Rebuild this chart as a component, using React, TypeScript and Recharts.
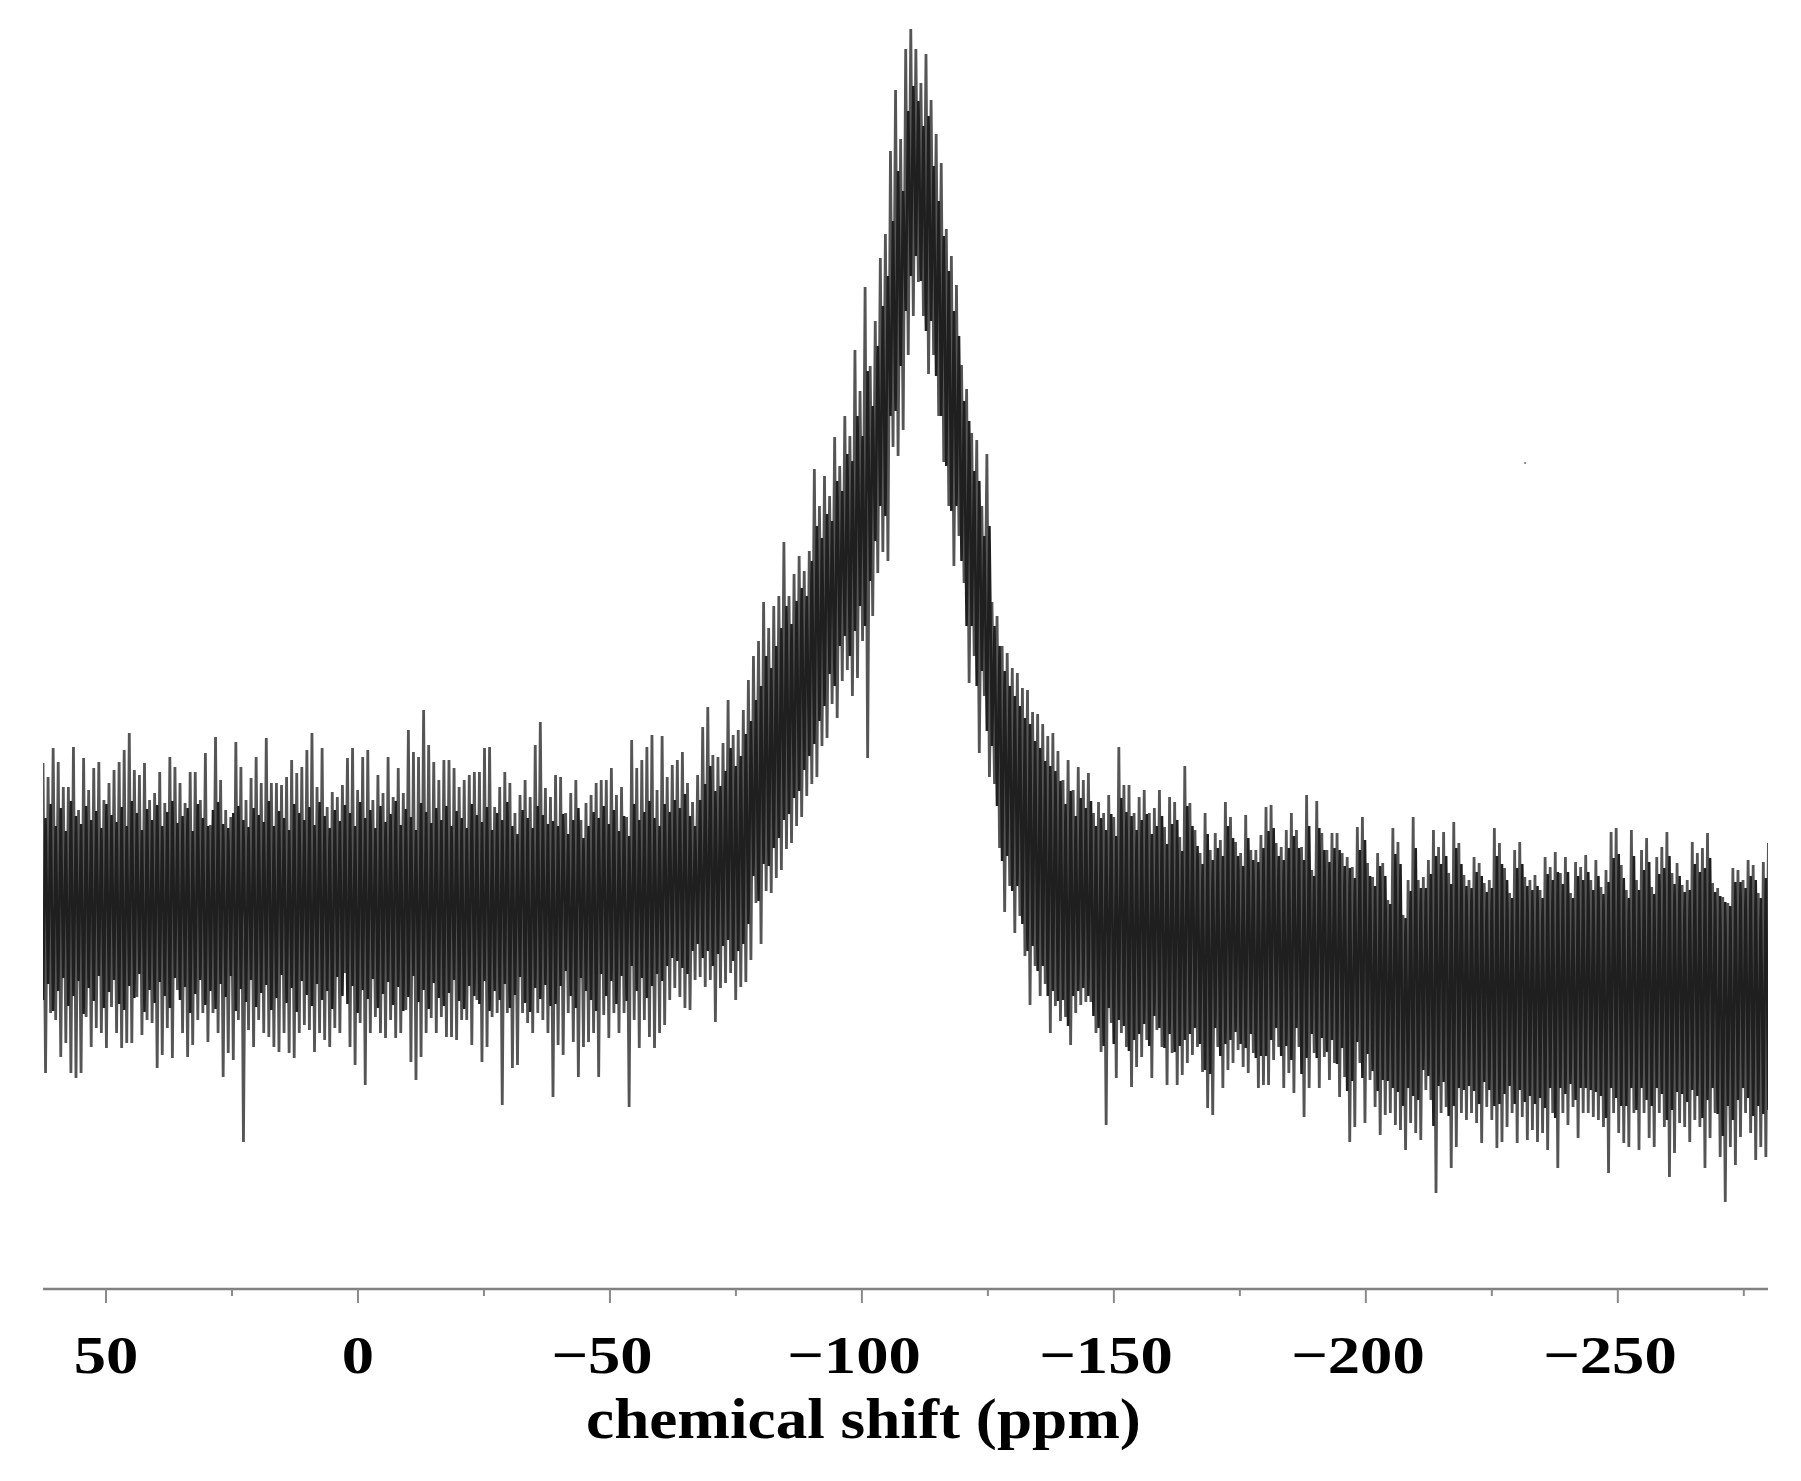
import { ComposedChart, Line, XAxis, YAxis, ReferenceDot } from 'recharts';

// intensity, one column per sample, from +62.5 ppm going upfield
const leftUpper = [
  533, 519, 548, 534, 509, 509, 549, 486, 538, 506, 528, 534, 496, 513, 526, 534, 546, 563, 526, 521,
  533, 496, 503, 524, 493, 539, 529, 513, 493, 524, 524, 496, 543, 471, 559, 516, 486, 479, 554, 529,
  496, 518, 539, 513, 558, 513, 513, 511, 519, 536, 523, 529, 546, 563, 509, 548, 489, 504, 499, 511,
  538, 548, 506, 539, 546, 496, 521, 503, 539, 499, 528, 503, 566, 544, 539, 586, 551, 534, 516, 536,
  536, 528, 509, 516, 521, 524, 524, 548, 549, 489, 509, 524, 513, 483, 501, 516, 499, 551, 574, 508, 499,
];
const leftLower = [
  223, 283, 276, 239, 253, 223, 218, 223, 279, 249, 268, 263, 248, 289, 263, 248, 253, 253, 299, 261,
  276, 273, 228, 241, 268, 238, 306, 263, 239, 251, 276, 283, 254, 283, 263, 219, 243, 236, 276, 154,
  266, 249, 276, 263, 259, 249, 244, 263, 243, 238, 263, 271, 266, 244, 263, 256, 249, 268, 263, 323,
  249, 231, 273, 211, 263, 279, 263, 258, 276, 258, 263, 286, 234, 216, 239, 263, 278, 263, 279, 259,
  259, 256, 276, 276, 251, 296, 234, 249, 279, 283, 191, 283, 228, 231, 283, 273, 263, 283, 276, 263, 199,
];
const peakUpper = [
  521, 519, 483, 503, 516, 476, 493, 501, 513, 516, 516, 528, 501, 509, 479, 556, 528, 536, 549, 561,
  506, 560, 519, 531, 536, 544, 513, 494, 521, 569, 589, 541, 539, 553, 596, 561, 566, 586, 616,
  640, 655, 694, 668, 690, 700, 754, 700, 722, 740, 725, 745, 827, 790, 820, 800, 859, 830, 880, 860,
  946, 905, 1009, 930, 975, 1038, 1062, 1145, 1206, 1157, 1247, 1267, 1247, 1213, 1242, 1196, 1162, 1133, 1067, 1040,
  1011, 931, 907, 863, 856, 790, 842, 694, 680, 650, 643, 628, 623, 608, 606, 584, 582, 572, 560, 563, 545,
];
const peakLower = [
  251, 241, 283, 254, 219, 249, 254, 263, 219, 281, 258, 283, 263, 283, 189, 276, 248, 276, 259, 248,
  263, 271, 296, 308, 299, 288, 286, 316, 319, 309, 316, 274, 308, 313, 323, 296, 309, 314, 336,
  393, 352, 405, 403, 418, 426, 447, 453, 470, 479, 500, 512, 519, 550, 558, 592, 578, 615, 626, 600,
  618, 655, 538, 680, 723, 744, 735, 849, 840, 866, 941, 980, 1014, 980, 922, 941, 880, 834, 790, 730,
  760, 713, 613, 640, 543, 600, 519, 512, 448, 384, 410, 363, 380, 340, 291, 330, 300, 312, 263, 290, 275,
];
const rightUpper = [
  516, 536, 506, 529, 516, 523, 483, 494, 483, 501, 479, 549, 511, 511, 483, 499, 506, 483, 488, 506,
  469, 499, 494, 459, 530, 493, 466, 443, 483, 446, 463, 456, 494, 479, 454, 443, 481, 446, 446, 461,
  489, 491, 453, 449, 466, 483, 466, 449, 501, 426, 495, 463, 446, 463, 463, 443, 439, 429, 469, 479,
  433, 419, 443, 433, 396, 468, 454, 381, 416, 479, 416, 419, 436, 466, 449, 464, 423, 474, 453, 421,
  416, 439, 433, 413, 416, 468, 453, 428, 403, 446, 454, 419, 416, 421, 406, 439, 429, 444, 423, 439,
  403, 434, 429, 441, 416, 436, 409, 426, 464, 468, 431, 406, 466, 416, 446, 458, 409, 439, 449, 464,
  423, 433, 411, 416, 454, 443, 448, 463, 413, 408, 399, 393, 428, 426, 416, 436, 431, 403, 434, 453, 429,
];
const rightLower = [
  279, 251, 283, 291, 294, 294, 263, 244, 171, 273, 218, 263, 249, 209, 229, 239, 256, 218, 266, 249,
  211, 243, 211, 221, 233, 241, 249, 224, 188, 181, 249, 208, 226, 233, 246, 229, 223, 243, 208, 211,
  211, 236, 249, 208, 223, 203, 249, 179, 208, 243, 208, 239, 216, 233, 199, 219, 154, 169, 233, 173,
  216, 189, 161, 181, 183, 171, 166, 146, 173, 163, 156, 206, 196, 103, 183, 189, 128, 149, 183, 176,
  183, 173, 153, 189, 176, 148, 154, 169, 183, 153, 179, 156, 166, 154, 163, 146, 183, 128, 183, 171,
  189, 158, 183, 183, 179, 176, 169, 123, 183, 163, 153, 149, 183, 146, 183, 158, 149, 183, 169, 119,
  143, 173, 169, 154, 176, 169, 128, 158, 183, 139, 94, 149, 131, 159, 183, 163, 136, 149, 139, 143, 170,
];

// second, darker trace: the shorter sticks that fill the band between the tall ones
const leftInnerUpper = [
  478, 492, 470, 488, 465, 495, 480, 472, 490, 476, 485, 468, 492, 481, 474, 489, 470, 495, 483, 466,
  487, 476, 491, 470, 484, 495, 473, 480, 488, 465, 492, 478, 470, 486, 494, 472, 468, 483, 490, 476,
  469, 488, 481, 474, 495, 470, 485, 478, 466, 492, 483, 476, 489, 471, 494, 480, 468, 486, 475, 491,
  483, 470, 494, 478, 486, 468, 490, 474, 482, 495, 471, 487, 479, 466, 493, 484, 473, 488, 476, 490,
  470, 485, 478, 468, 492, 481, 474, 489, 466, 483, 476, 494, 470, 462, 486, 478, 468, 490, 481, 472, 475,
];
const leftInnerLower = [
  296, 312, 285, 305, 318, 290, 300, 315, 282, 308, 295, 320, 288, 304, 316, 292, 286, 310, 298, 322,
  284, 306, 293, 314, 300, 288, 318, 296, 309, 283, 302, 316, 291, 305, 287, 312, 299, 320, 285, 307,
  294, 316, 289, 303, 311, 286, 298, 321, 293, 308, 284, 315, 301, 290, 312, 296, 305, 287, 319, 300,
  292, 310, 283, 306, 297, 317, 288, 302, 314, 291, 309, 285, 299, 320, 294, 306, 287, 313, 298, 290,
  303, 316, 295, 287, 310, 300, 292, 315, 285, 305, 296, 312, 288, 301, 319, 293, 284, 308, 297, 311, 290,
];
const peakInnerUpper = [
  470, 482, 462, 476, 488, 458, 470, 484, 478, 490, 472, 486, 465, 480, 460, 492, 476, 484, 495, 478,
  470, 492, 484, 496, 488, 502, 480, 470, 496, 512, 530, 505, 510, 525, 548, 530, 540, 562, 575,
  596, 610, 640, 628, 650, 668, 690, 672, 695, 708, 700, 735, 770, 758, 782, 775, 815, 805, 842, 835,
  880, 860, 925, 890, 950, 990, 1020, 1075, 1125, 1105, 1185, 1210, 1195, 1170, 1180, 1130, 1095, 1060, 1025, 985,
  960, 895, 875, 825, 815, 760, 770, 670, 650, 625, 610, 600, 590, 578, 572, 555, 548, 535, 530, 525, 515,
];
const peakInnerLower = [
  292, 310, 325, 300, 288, 318, 305, 296, 285, 322, 300, 315, 292, 320, 295, 330, 305, 318, 298, 310,
  322, 315, 330, 338, 335, 328, 322, 345, 352, 338, 345, 330, 342, 350, 356, 335, 345, 352, 372,
  420, 395, 432, 430, 448, 458, 476, 482, 498, 505, 526, 540, 552, 575, 590, 622, 610, 650, 660, 640,
  665, 690, 670, 715, 755, 790, 780, 880, 885, 930, 985, 1020, 1040, 1015, 965, 975, 920, 880, 830, 785,
  790, 735, 670, 670, 610, 625, 565, 550, 490, 435, 440, 405, 410, 372, 345, 350, 325, 330, 300, 305, 295,
];
const rightInnerUpper = [
  492, 505, 480, 498, 488, 495, 470, 478, 466, 482, 460, 498, 484, 480, 466, 476, 482, 462, 470, 480,
  452, 472, 476, 445, 490, 470, 450, 432, 462, 436, 448, 440, 470, 458, 440, 430, 458, 436, 434, 448,
  465, 468, 440, 436, 448, 460, 448, 436, 470, 420, 468, 446, 434, 448, 446, 430, 428, 418, 446, 456,
  420, 410, 430, 420, 392, 442, 432, 378, 405, 448, 408, 408, 422, 440, 432, 440, 412, 448, 432, 410,
  408, 424, 420, 404, 408, 440, 432, 416, 398, 428, 432, 410, 406, 410, 398, 422, 416, 424, 412, 424,
  398, 420, 416, 424, 406, 420, 402, 414, 438, 442, 418, 398, 440, 406, 426, 434, 402, 422, 428, 440,
  412, 420, 404, 406, 432, 424, 428, 438, 404, 400, 394, 390, 414, 414, 408, 420, 416, 398, 418, 430, 414,
];
const rightInnerLower = [
  296, 270, 300, 305, 308, 300, 280, 268, 250, 288, 252, 276, 270, 245, 256, 262, 272, 250, 280, 268,
  248, 262, 244, 250, 256, 262, 268, 252, 226, 222, 268, 240, 252, 256, 264, 252, 248, 262, 238, 240,
  240, 256, 268, 240, 250, 236, 268, 222, 238, 262, 238, 258, 244, 256, 232, 248, 205, 215, 254, 218,
  242, 225, 205, 216, 215, 208, 204, 190, 208, 200, 196, 226, 220, 170, 210, 214, 180, 190, 208, 206,
  210, 205, 192, 214, 206, 190, 192, 202, 210, 192, 206, 194, 200, 192, 198, 188, 208, 178, 208, 202,
  212, 196, 208, 208, 206, 204, 200, 178, 208, 198, 190, 190, 208, 186, 208, 196, 190, 208, 202, 176,
  186, 204, 202, 194, 206, 200, 178, 196, 208, 182, 160, 190, 176, 196, 208, 198, 180, 190, 182, 186, 202,
];

const xTicks = [50, 25, 0, -25, -50, -75, -100, -125, -150, -175, -200, -225, -250, -275];
const xLabels = [50, 0, -50, -100, -150, -200, -250];

const upper = [...leftUpper, ...peakUpper, ...rightUpper];
const lower = [...leftLower, ...peakLower, ...rightLower];
const innerUpper = [...leftInnerUpper, ...peakInnerUpper, ...rightInnerUpper];
const innerLower = [...leftInnerLower, ...peakInnerLower, ...rightInnerLower];
const START_PPM = 62.5;
const STEP_PPM = 1.007;

const spectrum = upper.flatMap((u, i) => [
  { ppm: START_PPM - i * STEP_PPM, intensity: u },
  { ppm: START_PPM - (i + 0.5) * STEP_PPM, intensity: lower[i] },
]);
const spectrumInner = innerUpper.flatMap((u, i) => [
  { ppm: START_PPM - i * STEP_PPM, intensity: innerLower[i] },
  { ppm: START_PPM - (i + 0.5) * STEP_PPM, intensity: u },
]);

const FONT = '"Liberation Serif", serif';

function ShiftTick({ x, y, payload }: any) {
  const major = xLabels.includes(payload.value);
  const nudge = payload.value < 0 ? -8 : 0;
  return (
    <g>
      <line x1={x} x2={x} y1={y - 8} y2={y - 8 + (major ? 14 : 7)} stroke="#8a8a8a" strokeWidth={2} />
      {major && (
        <text
          transform={`translate(${x + nudge},${y + 76}) scale(1.22,1)`}
          textAnchor="middle"
          fontFamily={FONT}
          fontWeight="bold"
          fontSize={53}
          fill="#000"
        >
          {String(payload.value).replace('-', '\u2212')}
        </text>
      )}
    </g>
  );
}

function AxisTitle({ viewBox }: any) {
  const cx = viewBox.x + viewBox.width / 2 - 42;
  const base = viewBox.y + viewBox.height - 43;
  return (
    <text
      transform={`translate(${cx},${base}) scale(1.09,1)`}
      textAnchor="middle"
      fontFamily={FONT}
      fontWeight="bold"
      fontSize={58}
      fill="#000"
    >
      chemical shift (ppm)
    </text>
  );
}

export default function App() {
  return (
    <div style={{ position: 'absolute', left: 0, top: 0, width: 1801, height: 1481, background: '#fff' }}>
      <ComposedChart width={1801} height={1481} data={spectrum} margin={{ top: 0, right: 33, bottom: 0, left: 43 }}>
        <XAxis
          dataKey="ppm"
          type="number"
          domain={[-279.8, 62.5]}
          reversed
          allowDataOverflow
          ticks={xTicks}
          interval={0}
          height={192}
          tick={<ShiftTick />}
          tickLine={false}
          axisLine={{ stroke: '#808080', strokeWidth: 2.5 }}
          label={{ content: (p: any) => <AxisTitle {...p} /> }}
        />
        <YAxis hide domain={[7, 1296]} />
        <Line dataKey="intensity" type="linear" stroke="#555" strokeWidth={2.8} dot={false} isAnimationActive={false} />
        <Line data={spectrumInner} dataKey="intensity" type="linear" stroke="#1f1f1f" strokeWidth={2.6} dot={false} isAnimationActive={false} />
        <ReferenceDot x={-231.6} y={833} r={1} fill="#777" stroke="none" />
      </ComposedChart>
    </div>
  );
}
